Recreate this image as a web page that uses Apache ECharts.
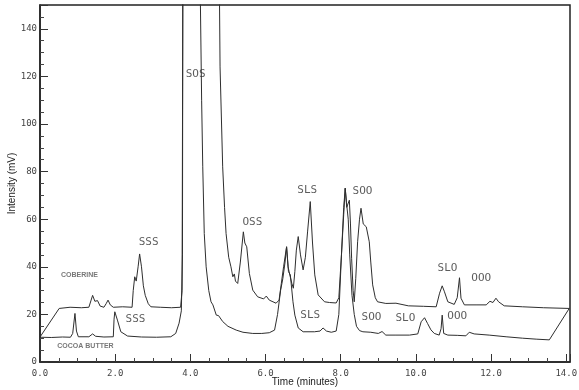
<!DOCTYPE html>
<html>
<head>
<meta charset="utf-8">
<script src="https://cdn.jsdelivr.net/npm/echarts@6/dist/echarts.min.js"></script>
<style>html,body{margin:0;padding:0;background:#fff;}#c{width:579px;height:390px;}</style>
</head>
<body>
<div id="c"></div>
<script>
// Time (minutes), Intensity (mV)
const coberine = [
  [0, 10.5], [0.51, 22.5], [0.8, 23], [1.1, 22.8], [1.30, 23], [1.36, 26], [1.40, 28], [1.46, 25.5],
  [1.53, 25.8], [1.60, 23.5], [1.70, 23], [1.76, 24.5], [1.81, 26], [1.87, 24], [1.95, 23], [2.2, 23.2],
  [2.45, 23], [2.48, 30], [2.52, 35.8], [2.56, 34], [2.61, 40], [2.65, 45.4], [2.70, 40], [2.75, 32],
  [2.80, 28], [2.88, 24.5], [2.95, 23.2], [3.2, 23], [3.5, 22.8], [3.74, 23], [3.78, 30], [3.80, 160],
  [3.85, 400], [4.6, 400], [4.75, 200], [4.79, 124], [4.86, 82], [4.91, 65], [4.95, 54], [5.02, 44],
  [5.08, 40], [5.13, 35.8], [5.17, 37], [5.20, 34], [5.26, 33], [5.33, 42], [5.41, 54.7], [5.45, 50],
  [5.50, 48.4], [5.57, 37.2], [5.66, 30.2], [5.79, 27.4], [5.95, 26.5], [6.02, 27.7], [6.10, 26],
  [6.28, 24.7], [6.36, 26], [6.42, 33], [6.48, 40], [6.56, 48.4], [6.60, 40], [6.64, 37], [6.70, 33],
  [6.74, 31], [6.78, 38], [6.82, 47], [6.87, 52.7], [6.93, 45], [7.0, 38.7], [7.06, 44], [7.12, 55],
  [7.19, 67.4], [7.25, 50], [7.31, 36.6], [7.40, 28.2], [7.57, 25.3], [7.70, 25], [7.88, 24.8],
  [7.95, 27], [8.02, 45], [8.08, 62], [8.12, 73], [8.16, 65], [8.19, 64.6], [8.23, 68], [8.26, 58],
  [8.29, 43.6], [8.33, 30], [8.36, 25.3], [8.40, 35], [8.45, 50.5], [8.50, 60], [8.54, 64.6], [8.60, 58],
  [8.68, 56.8], [8.76, 50.5], [8.80, 42], [8.85, 32.4], [8.92, 27], [8.98, 25.3], [9.2, 24.6],
  [9.47, 24.7], [9.8, 23.6], [10.2, 23.4], [10.54, 23.2], [10.63, 28.9], [10.70, 32], [10.76, 29.5],
  [10.85, 25.3], [11.02, 24.2], [11.10, 27], [11.16, 35.4], [11.20, 26.8], [11.29, 24], [11.6, 24],
  [11.87, 24], [11.97, 25.5], [12.05, 25], [12.13, 26.8], [12.2, 25.3], [12.35, 23.6], [12.84, 23.2],
  [13.4, 22.8], [14.08, 22.5]
];
const cocoaButter = [
  [0, 10.4], [0.3, 10.3], [0.6, 10.5], [0.81, 10.4], [0.87, 12], [0.93, 20.4], [0.97, 13], [1.02, 10.6],
  [1.3, 10.6], [1.40, 11.8], [1.48, 10.8], [1.7, 10.5], [1.95, 10.6], [1.97, 18], [1.99, 21.1],
  [2.06, 17.6], [2.15, 12.7], [2.33, 10.9], [2.7, 10.5], [3.1, 10.4], [3.48, 10.6], [3.61, 12],
  [3.70, 16.3], [3.76, 21.5], [3.79, 45], [3.82, 400], [4.2, 400], [4.26, 160], [4.30, 110], [4.33, 82],
  [4.37, 54], [4.42, 40], [4.49, 30], [4.55, 25.3], [4.60, 24], [4.69, 19.7], [4.75, 19.5], [4.86, 17],
  [5.0, 15], [5.22, 13.4], [5.4, 12.5], [5.66, 12], [5.9, 12], [6.10, 12.3], [6.24, 13.4], [6.32, 20],
  [6.40, 30], [6.46, 35], [6.52, 42], [6.56, 48.4], [6.61, 38], [6.66, 36.6], [6.73, 25.3], [6.78, 19.7],
  [6.87, 14.3], [7.0, 12.7], [7.3, 12.7], [7.45, 13], [7.53, 14.3], [7.62, 13], [7.75, 12.5], [7.88, 13],
  [7.95, 20], [8.02, 45], [8.08, 65], [8.12, 73], [8.16, 66], [8.20, 60], [8.24, 45], [8.30, 28],
  [8.36, 20], [8.42, 15], [8.50, 13.2], [8.59, 12.7], [8.8, 12.5], [9.0, 12], [9.1, 12.8], [9.2, 11.3],
  [9.47, 11.3], [9.83, 11.3], [10.05, 11.8], [10.14, 16.9], [10.23, 18.6], [10.31, 16.2], [10.40, 13.5],
  [10.49, 12], [10.62, 11.3], [10.67, 14], [10.70, 19.7], [10.74, 12], [10.85, 11.3], [11.1, 11.2],
  [11.33, 11], [11.42, 12.5], [11.55, 11.8], [11.95, 11.3], [12.4, 10.6], [12.84, 10], [13.2, 9.6],
  [13.55, 9.3], [14.08, 22.5]
];
// Peak annotations: [time, intensity, text]
const peakLabels = [
  [2.89, 50.4, 'SSS'], [2.54, 18.1, 'SSS'], [4.14, 121, 'SOS'], [5.65, 58.8, 'OSS'],
  [7.11, 72.3, 'SLS'], [7.19, 19.7, 'SLS'], [8.58, 71.8, 'SOO'], [8.82, 18.9, 'SOO'],
  [10.84, 39.5, 'SLO'], [11.74, 35.3, 'OOO'], [9.72, 18.5, 'SLO'], [11.10, 19.3, 'OOO']
];
const traceLabels = [[1.05, 36.6, 'COBERINE'], [1.21, 6.7, 'COCOA BUTTER']];
const xTicks = [0, 2, 4, 6, 8, 10, 12, 14];
const yTicks = [0, 20, 40, 60, 80, 100, 120, 140];

const chart = echarts.init(document.getElementById('c'));
const lineColor = '#2e2e2e';
chart.setOption({
  animation: false,
  backgroundColor: '#fff',
  grid: { left: 40, right: 9, top: 5, bottom: 28, containLabel: false, outerBoundsMode: 'none',
    show: true, borderColor: '#222', borderWidth: 1.5 },
  xAxis: {
    type: 'value', min: 0, max: 14.1, interval: 2,
    name: 'Time (minutes)', nameLocation: 'middle', nameGap: 15, nameMoveOverlap: false,
    nameTextStyle: { fontFamily: 'Liberation Sans', fontSize: 10, color: '#222' },
    axisLine: { lineStyle: { color: '#222', width: 1.5 } },
    axisTick: { inside: true, length: 8, lineStyle: { color: '#333' } },
    minorTick: { show: true, splitNumber: 4, length: 4, lineStyle: { color: '#444' } },
    axisLabel: { showMaxLabel: false, margin: 7, fontFamily: 'DejaVu Sans Mono', fontSize: 9, color: '#444',
      formatter: v => xTicks.includes(v) ? v.toFixed(1) : '' },
    splitLine: { show: false }
  },
  yAxis: {
    type: 'value', min: 0, max: 150, interval: 20,
    name: 'Intensity (mV)', nameLocation: 'middle', nameGap: 23, nameMoveOverlap: false,
    nameTextStyle: { fontFamily: 'Liberation Sans', fontSize: 10, color: '#222' },
    axisLine: { show: true, lineStyle: { color: '#222', width: 1.5 } },
    axisTick: { show: true, inside: true, length: 8, lineStyle: { color: '#333' } },
    minorTick: { show: true, splitNumber: 4, length: 4, lineStyle: { color: '#444' } },
    axisLabel: { showMaxLabel: false, margin: 3, fontFamily: 'DejaVu Sans Mono', fontSize: 9, color: '#444',
      formatter: v => yTicks.includes(v) ? String(v) : '' },
    splitLine: { show: false }
  },
  series: [
    { name: 'COBERINE', type: 'line', data: coberine, showSymbol: false, clip: true,
      lineStyle: { color: lineColor, width: 1 } },
    { name: 'COCOA BUTTER', type: 'line', data: cocoaButter, showSymbol: false, clip: true,
      lineStyle: { color: lineColor, width: 1 } },
    { type: 'scatter', symbolSize: 0, silent: true,
      data: peakLabels.map(p => ({ value: [p[0], p[1]], name: p[2] })),
      label: { show: true, position: 'inside', formatter: p => p.name,
        fontFamily: 'DejaVu Sans Mono', fontSize: 11, color: '#333' } },
    { type: 'scatter', symbolSize: 0, silent: true,
      data: traceLabels.map(p => ({ value: [p[0], p[1]], name: p[2] })),
      label: { show: true, position: 'inside', formatter: p => p.name,
        fontFamily: 'Liberation Sans', fontWeight: 'bold', fontSize: 7, color: '#555' } }
  ]
});
</script>
</body>
</html>
